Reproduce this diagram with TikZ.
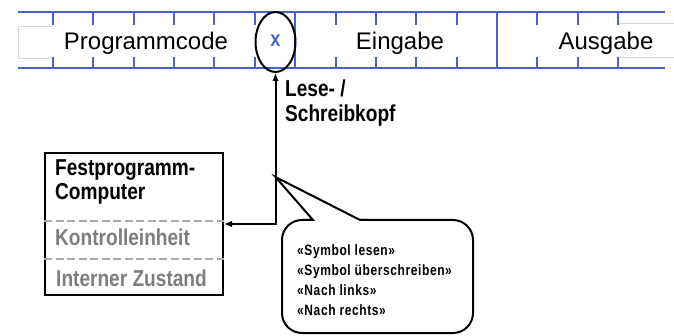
\documentclass[tikz,border=0pt]{standalone}
\usepackage{fontspec}
\setmainfont{Liberation Sans}
\newfontfamily\condfont[FakeStretch=0.83]{Liberation Sans}
\newfontfamily\notefont[FakeStretch=0.8,LetterSpace=4]{Liberation Sans}
\usetikzlibrary{arrows.meta,shapes.geometric}

\definecolor{tapeblue}{RGB}{72,98,200}
\definecolor{lightrule}{RGB}{215,215,215}
\definecolor{dashgrey}{RGB}{170,170,170}
\definecolor{softtext}{RGB}{125,125,125}

\tikzset{
  taperule/.style={draw=tapeblue, line width=2pt},
  tapeend/.style={draw=lightrule, line width=1pt},
  tapelabel/.style={anchor=base, inner sep=0pt, font=\fontsize{24}{28}\selectfont},
  % multi-line labels are placed by the baseline of their last line
  boldlabel/.style={anchor=base west, inner sep=0pt, align=left,
    font=\condfont\bfseries\fontsize{23}{24.5}\selectfont},
  greylabel/.style={boldlabel, text=softtext},
  notelabel/.style={anchor=base west, inner sep=0pt, align=left,
    font=\notefont\bfseries\fontsize{15}{20}\selectfont},
  conn/.style={line width=2pt, {Latex[length=8pt,width=6.5pt]}-{Latex[length=8pt,width=6.5pt]}},
  sepline/.style={draw=dashgrey, line width=2pt, dash pattern=on 8pt off 3.5pt},
}

\begin{document}
\begin{tikzpicture}[x=1pt, y=-1pt]
  \useasboundingbox (0,0) rectangle (674,336);

  % --- tape ---
  \draw[tapeend] (53,27) -- (18,27) -- (18,59) -- (53,59);
  \draw[tapeend] (618,24) -- (674,24);
  \draw[tapeend] (618,58) -- (674,58);
  \draw[taperule] (18,12.5) -- (665,12.5);
  \draw[taperule] (18,68.5) -- (665,68.5);
  \foreach \k in {0,...,14} {
    \pgfmathsetmacro{\tx}{53+40.36*\k}
    \ifnum\k=6
      \draw[taperule] (\tx,12.5) -- (\tx,68.5);
    \else\ifnum\k=11
      \draw[taperule] (\tx,12.5) -- (\tx,68.5);
    \else
      \draw[taperule] (\tx,12.5) -- (\tx,25);
      \draw[taperule] (\tx,57.5) -- (\tx,68.5);
    \fi\fi
  }
  \node[tapelabel] (prog) at (146,50) {Programmcode};
  \node[tapelabel] (ein)  at (400,50) {Eingabe};
  \node[tapelabel] (aus)  at (606,50) {Ausgabe};

  % --- read/write head ---
  \node[draw, line width=2pt, ellipse, minimum width=40pt, minimum height=60pt,
        inner sep=0pt] (head) at (275.5,42) {};
  \node[text=tapeblue, inner sep=0pt, font=\condfont\bfseries\fontsize{22}{22}\selectfont]
        (sym) at (275.5,41) {x};
  \node[boldlabel] (headlbl) at (285,121.5) {Lese- /\\Schreibkopf};

  % --- fixed-program computer ---
  \node[draw, line width=2pt, minimum width=178pt, minimum height=142pt,
        inner sep=0pt] (fpc) at (134,224) {};
  \node[boldlabel] (fpcname) at (55,200) {Festprogramm-\\Computer};
  \draw[sepline] (fpc.west |- 0,221.5) -- (fpc.east |- 0,221.5);
  \draw[sepline] (fpc.west |- 0,259) -- (fpc.east |- 0,259);
  \node[greylabel] (ctrl) at (55,246) {Kontrolleinheit};
  \node[greylabel] (state) at (56,286.5) {Interner Zustand};

  % --- connector between head and computer ---
  \coordinate (bend) at (head.south |- 0,224);
  \draw[conn] (fpc.east |- bend) -- (bend) -- (head.south);

  % --- operations callout ---
  \coordinate (tip) at (275.5,177);
  \node[draw, line width=2pt, rounded corners=20pt, fill=white,
        minimum width=191pt, minimum height=113pt, inner sep=0pt] (ops) at (377.5,276.5) {};
  \fill[white] (tip) -- (313,220) -- (313,222.5) -- (360,222.5) -- (360,220) -- cycle;
  \draw[line width=2pt, line join=miter] (306,220) -- (313,220) -- (tip) -- (360,220) -- (367,220);
  \node[notelabel] (opstext) at (297,315.7)
    {«Symbol lesen»\\«Symbol überschreiben»\\«Nach links»\\«Nach rechts»};
\end{tikzpicture}
\end{document}
